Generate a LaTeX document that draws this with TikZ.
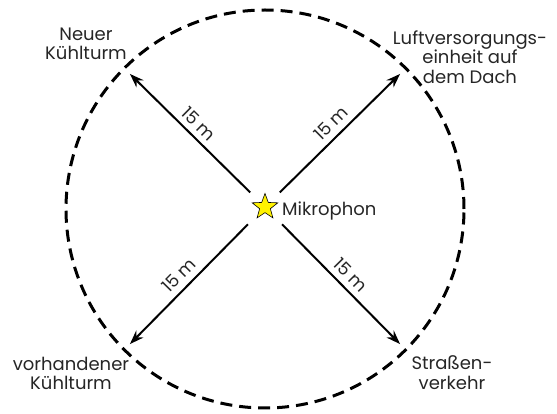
\documentclass[tikz,border=0pt]{standalone}
\usepackage{fontspec}
\setmainfont{Poppins}
\usepackage{tikz}
\usetikzlibrary{arrows.meta, shapes.geometric, positioning}

\begin{document}
\begin{tikzpicture}[x=1pt, y=1pt, >={Stealth[length=14pt, width=10pt]},
    pfeil/.style={->, line width=2pt, shorten <=14pt},
    abstand/.style={above=6pt, sloped, pos=0.54, inner sep=0pt,
        font=\fontsize{17.5}{17.5}\selectfont, text=black!85},
    ort/.style={align=center, inner sep=0pt, text=black!85,
        font=\fontsize{18}{19.5}\selectfont}]

    \useasboundingbox (-265,-205) rectangle (292,209);

    % =================================================================
    % 1. KREIS (15 m Umkreis)
    % =================================================================
    \draw[dash pattern=on 12pt off 7pt, line width=3pt] (0,0) circle (199);

    % =================================================================
    % 2. MIKROPHON IN DER MITTE
    % =================================================================
    \node[star, star points=5, star point ratio=2.4, minimum size=27pt,
        inner sep=0pt, draw, fill=yellow, line width=0.6pt] (mik) at (0,2) {};
    \node[ort, right=9pt of mik, yshift=-4pt] (miktext) {Mikrophon};

    % =================================================================
    % 3. PFEILE ZU DEN QUELLEN
    % =================================================================
    \coordinate (nw) at (135:191);
    \coordinate (no) at (45:191);
    \coordinate (sw) at (225:191);
    \coordinate (so) at (-45:191);

    \draw[pfeil] (mik) -- node[abstand] {15 m} (nw);
    \draw[pfeil] (mik) -- node[abstand] {15 m} (no);
    \draw[pfeil] (mik) -- node[abstand] {15 m} (sw);
    \draw[pfeil] (mik) -- node[abstand] {15 m} (so);

    % =================================================================
    % 4. BESCHRIFTUNG DER QUELLEN
    % =================================================================
    \node[ort] (neu) at (-179,165) {Neuer\\Kühlturm};
    \node[ort] (luft) at (205,152) {Luftversorgungs-\\einheit auf\\dem Dach};
    \node[ort] (alt) at (-194,-164.5) {vorhandener\\Kühlturm};
    \node[ort] (str) at (187,-163.5) {Straßen-\\verkehr};

\end{tikzpicture}
\end{document}
